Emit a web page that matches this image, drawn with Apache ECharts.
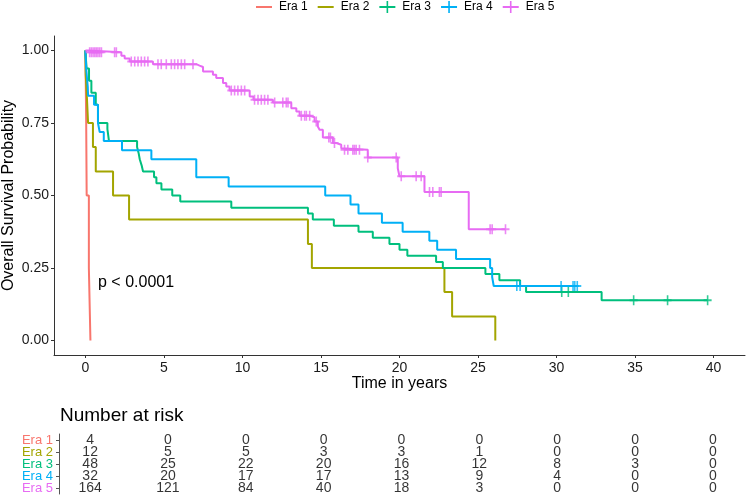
<!DOCTYPE html>
<html><head><meta charset="utf-8">
<script src="https://cdn.jsdelivr.net/npm/echarts@6/dist/echarts.min.js"></script>
<style>html,body{margin:0;padding:0;background:#fff}#c{width:748px;height:496px}</style>
</head><body><div id="c"></div>
<script>
// ---- data ----
const eraNames = ['Era 1','Era 2','Era 3','Era 4','Era 5'];
const eraColors = ['#F8766D','#A3A500','#00BF7D','#00B0F6','#E76BF3'];
const xTicks = [0,5,10,15,20,25,30,35,40];
const yTicks = [0,0.25,0.5,0.75,1];

const era1Times = [0, 0.05, 0.08, 0.22, 0.32];
const era1Surv  = [1, 0.75, 0.5, 0.25, 0];

const era2Times = [0, 0.02, 0.1, 0.17, 0.48, 0.66, 1.76, 2.78, 14.17, 14.42, 22.86, 23.35, 26.1];
const era2Surv  = [1, 0.917, 0.833, 0.75, 0.667, 0.583, 0.5, 0.417, 0.333, 0.25, 0.167, 0.083, 0];

const era3Times = [0, 0.02, 0.05, 0.08, 0.23, 0.38, 0.66, 0.8, 1.4, 1.5, 3.29, 3.39, 3.46, 3.58, 3.67, 4.37, 4.52, 4.84, 5.53, 6.04, 9.29, 14.17, 14.48, 15.82, 17.39, 18.3, 19.36, 20.0, 20.5, 22.33, 22.76, 25.47, 26.36, 27.68, 28.06, 32.87, 39.62];
const era3Surv  = [1, 0.979, 0.958, 0.938, 0.896, 0.854, 0.813, 0.75, 0.729, 0.688, 0.667, 0.646, 0.625, 0.604, 0.583, 0.563, 0.542, 0.521, 0.5, 0.479, 0.458, 0.438, 0.417, 0.396, 0.375, 0.354, 0.333, 0.313, 0.292, 0.271, 0.25, 0.229, 0.208, 0.188, 0.167, 0.139, 0.139];
const era3Censor = [30.33, 30.75, 34.91, 37.07, 39.62];

const era4Times = [0, 0.02, 0.05, 0.1, 0.15, 0.17, 0.55, 0.8, 0.91, 1.17, 2.33, 4.2, 7.06, 9.12, 15.27, 16.88, 17.39, 18.88, 20.2, 21.9, 22.4, 23.6, 25.77, 25.9, 26.0, 31.32];
const era4Surv  = [1, 0.969, 0.938, 0.906, 0.875, 0.844, 0.813, 0.75, 0.719, 0.688, 0.656, 0.625, 0.563, 0.531, 0.5, 0.469, 0.438, 0.406, 0.375, 0.344, 0.313, 0.281, 0.25, 0.219, 0.188, 0.188];
const era4Censor = [27.47, 27.68, 30.29, 31.05, 31.16, 31.32];

const era5Times = [0, 0.17, 2.29, 2.5, 2.82, 4.3, 7.06, 7.27, 7.49, 8.12, 8.33, 8.76, 8.97, 9.18, 10.46, 10.7, 11.94, 13.11, 13.43, 13.64, 14.3, 14.59, 14.8, 14.91, 15.12, 15.76, 15.97, 16.29, 16.39, 17.98, 19.89, 20.0, 21.59, 24.41, 26.75];
const era5Surv  = [1, 0.994, 0.982, 0.972, 0.962, 0.953, 0.948, 0.943, 0.928, 0.916, 0.905, 0.888, 0.876, 0.862, 0.841, 0.83, 0.821, 0.801, 0.79, 0.775, 0.77, 0.755, 0.738, 0.727, 0.7, 0.681, 0.675, 0.663, 0.658, 0.631, 0.594, 0.566, 0.512, 0.384, 0.384];
const era5Censor = [0.27, 0.38, 0.49, 0.6, 0.7, 0.8, 0.91, 1.02, 1.86, 1.97, 2.92, 3.14, 3.35, 3.56, 3.77, 3.98, 4.62, 4.83, 5.15, 5.47, 5.68, 5.89, 6.11, 6.32, 6.85, 9.29, 9.5, 9.71, 9.93, 10.14, 10.77, 10.99, 11.2, 11.41, 11.62, 12.05, 12.57, 12.79, 12.9, 13.75, 13.96, 14.07, 14.28, 14.7, 15.5, 15.6, 15.86, 16.5, 16.71, 17.03, 17.13, 17.24, 17.45, 17.98, 19.79, 20.11, 21.06, 21.38, 21.91, 22.12, 22.54, 22.65, 25.77, 25.9, 26.75];

const riskTimes = [0,5,10,15,20,25,30,35,40];
const riskEra1 = [4,0,0,0,0,0,0,0,0];
const riskEra2 = [12,5,5,3,3,1,0,0,0];
const riskEra3 = [48,25,22,20,16,12,8,3,0];
const riskEra4 = [32,20,17,17,13,9,4,0,0];
const riskEra5 = [164,121,84,40,18,3,0,0,0];

// ---- build ----
const steps = [[era1Times,era1Surv],[era2Times,era2Surv],[era3Times,era3Surv],[era4Times,era4Surv],[era5Times,era5Surv]];
const censors = [[],[],era3Censor,era4Censor,era5Censor];
const risks = [riskEra1,riskEra2,riskEra3,riskEra4,riskEra5];
function survAt(ts, ss, t){ let v = ss[0]; for(let i=0;i<ts.length;i++){ if(ts[i] <= t) v = ss[i]; } return v; }

const FONT = 'Liberation Sans, Arial, sans-serif';
const plusPath = 'path://M4,0H6V4H10V6H6V10H4V6H0V4H4Z';
const legPlus = 'path://M0,5H16V7H0Z M7.2,0H8.8V12H7.2Z';
const legLine = 'path://M0,5H16V7H0Z';

const series = [];
eraNames.forEach((n,i)=>{
  series.push({
    name:n, type:'line', step:'end', xAxisIndex:0, yAxisIndex:0,
    data: steps[i][0].map((t,k)=>[t, steps[i][1][k]]),
    showSymbol:false, symbol:'none', lineStyle:{width:2, color:eraColors[i]}, itemStyle:{color:eraColors[i]},
    animation:false, z:2+i
  });
  if (censors[i].length){
    series.push({
      name:n+' censor', type:'scatter', xAxisIndex:0, yAxisIndex:0,
      data: censors[i].map(t=>[t, survAt(steps[i][0], steps[i][1], t)]),
      symbol:plusPath, symbolSize:[8,10], itemStyle:{color:eraColors[i]}, animation:false, z:2+i, silent:true
    });
  }
  series.push({
    name:n+' risk', type:'scatter', xAxisIndex:1, yAxisIndex:1,
    data: riskTimes.map((t,k)=>[t, n, risks[i][k]]),
    symbolSize:0, label:{show:true, position:'inside', formatter:p=>String(p.data[2]), color:'#000', fontSize:14, fontFamily:FONT},
    animation:false, silent:true
  });
});

const chart = echarts.init(document.getElementById('c'), null, {renderer:'canvas'});
chart.setOption({
  backgroundColor:'#fff',
  animation:false,
  legend:{
    left:256, top:1, padding:0, itemWidth:16, itemHeight:12, itemGap:10,
    textStyle:{fontSize:12, fontFamily:FONT, color:'#000', padding:[0,0,0,2]},
    data: eraNames.map((n,i)=>({name:n, icon: censors[i].length ? legPlus : legLine}))
  },
  grid:[
    {left:54, top:36, width:691, height:319, containLabel:false, outerBoundsMode:'none'},
    {left:59, top:434, width:685, height:60, containLabel:false, outerBoundsMode:'none'}
  ],
  xAxis:[
    {type:'value', gridIndex:0, min:-2, max:42,
     name:'Time in years', nameLocation:'middle', nameGap:21, nameMoveOverlap:false,
     nameTextStyle:{fontSize:16, fontFamily:FONT, color:'#000'},
     axisLine:{onZero:false, lineStyle:{color:'#333', width:1}},
     axisTick:{show:true, length:3, lineStyle:{color:'#333'}, customValues:xTicks},
     axisLabel:{fontSize:14, fontFamily:FONT, color:'#1a1a1a', margin:6, customValues:xTicks},
     splitLine:{show:false}},
    {type:'value', gridIndex:1, min:-2, max:42, show:false}
  ],
  yAxis:[
    {type:'value', gridIndex:0, min:-0.05, max:1.05,
     name:'Overall Survival Probability', nameLocation:'middle', nameGap:37, nameRotate:90, nameMoveOverlap:false,
     nameTextStyle:{fontSize:16, fontFamily:FONT, color:'#000'},
     axisLine:{show:true, onZero:false, lineStyle:{color:'#333', width:1}},
     axisTick:{show:true, length:3, lineStyle:{color:'#333'}, customValues:yTicks},
     axisLabel:{fontSize:14, fontFamily:FONT, color:'#1a1a1a', margin:5, customValues:yTicks, formatter:v=>v.toFixed(2)},
     splitLine:{show:false}},
    {type:'category', gridIndex:1, data:eraNames, inverse:true,
     axisLine:{show:true, onZero:false, lineStyle:{color:'#555', width:1}},
     axisTick:{show:true, length:3, alignWithLabel:true, interval:0, lineStyle:{color:'#555'}},
     axisLabel:{fontSize:13, fontFamily:FONT, margin:6, interval:0, hideOverlap:false,
       formatter:(v,idx)=>'{e'+idx+'|'+v+'}',
       rich:{e0:{color:eraColors[0],fontSize:13,fontFamily:FONT},e1:{color:eraColors[1],fontSize:13,fontFamily:FONT},e2:{color:eraColors[2],fontSize:13,fontFamily:FONT},e3:{color:eraColors[3],fontSize:13,fontFamily:FONT},e4:{color:eraColors[4],fontSize:13,fontFamily:FONT}}},
     splitLine:{show:false}}
  ],
  graphic:[
    {type:'text', left:98, top:275, style:{text:'p < 0.0001', fontSize:16, fontFamily:FONT, fill:'#000'}},
    {type:'text', left:60, top:406, style:{text:'Number at risk', fontSize:19, fontFamily:FONT, fill:'#000'}}
  ],
  series
});
</script></body></html>
